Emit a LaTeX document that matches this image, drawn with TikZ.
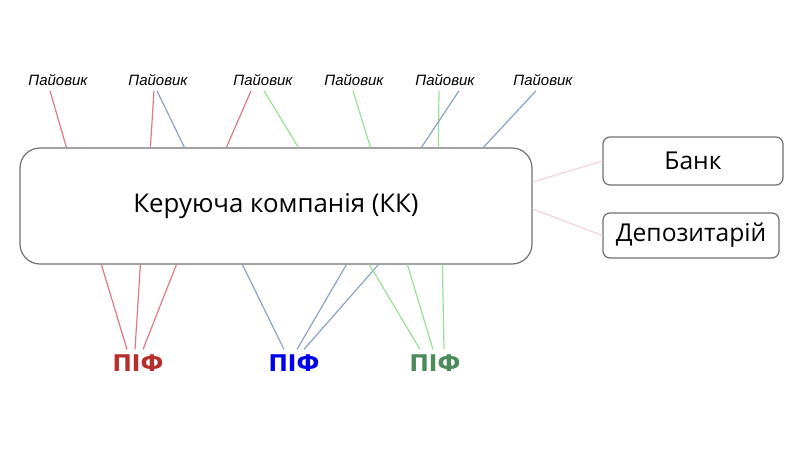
\documentclass[tikz,border=0pt]{standalone}
\usepackage{fontspec}
\setmainfont{Open Sans}
\newfontfamily\holderfont{Liberation Sans}
\newfontfamily\fundfont{DejaVu Sans}
\usepackage{xcolor}
\usepackage{tikz}
\usetikzlibrary{arrows.meta,positioning,calc}
\definecolor{linkred}{HTML}{E07888}
\definecolor{linkblue}{HTML}{8EA2C6}
\definecolor{linkgreen}{HTML}{98E098}
\definecolor{linkpink}{HTML}{F2D4DC}
\definecolor{fundred}{HTML}{B5302C}
\definecolor{fundblue}{HTML}{0000EE}
\definecolor{fundgreen}{HTML}{4B8B5B}
\definecolor{boxgray}{HTML}{707070}

\begin{document}
\begin{tikzpicture}[x=1pt,y=-1pt,
  holder/.style={font=\holderfont\itshape\fontsize{15}{17}\selectfont,inner sep=2pt},
  fund/.style={font=\fundfont\bfseries\fontsize{23}{26}\selectfont,inner sep=2pt},
  party/.style={draw=boxgray,line width=1.2pt,rounded corners=7pt,font=\fontsize{24.6}{28}\selectfont,inner sep=0pt},
  link/.style={line width=1.2pt}]
\useasboundingbox (0,0) rectangle (800,450);
% company
\node[party,rounded corners=20pt,minimum width=512pt,minimum height=116pt,font=\fontsize{25.8}{30}\selectfont] (kk) at (276,206) {\raisebox{-2pt}{Керуюча компанія (КК)}\hspace{11pt}};
\node[party,minimum width=180pt,minimum height=48pt] (bank) at (693,161) {Банк};
\node[party,minimum width=176pt,minimum height=45pt] (dep) at (691,235.5) {Депозитарій};
% holders
\foreach \i/\x in {1/58,2/158,3/263,4/354,5/445,6/543}{\node[holder] (p\i) at (\x,80) {Пайовик};}
% funds
\node[fund,text=fundred] (f1) at (138,363) {ПІФ};
\node[fund,text=fundblue] (f2) at (294,363) {ПІФ};
\node[fund,text=fundgreen] (f3) at (435,363) {ПІФ};
% holders to company
\foreach \i/\a/\b/\c in {1/-8/47/linkred,2/-4/131/linkred,2/-1/165/linkblue,3/-12/207/linkred,3/1/279/linkgreen,
  4/-1/351/linkgreen,5/-6/419/linkgreen,5/14/402/linkblue,6/-7/464/linkblue}
  {\draw[link,\c] ($(p\i.south)+(\a,3)$) -- ($(kk.north west)+(\b,0)$);}
% company to funds
\foreach \i/\a/\b/\c in {1/82/-11/linkred,1/121/-3/linkred,1/157/5/linkred,
  2/223/-10/linkblue,2/327/3/linkblue,2/359/10/linkblue,
  3/350/-15/linkgreen,3/388/-2/linkgreen,3/423/9/linkgreen}
  {\draw[link,\c] ($(kk.south west)+(\a,0)$) -- ($(f\i.north)+(\b,-3)$);}
% bank, depositary
\draw[link,linkpink] ($(kk.east)+(0,-24)$) -- (bank.west);
\draw[link,linkpink] ($(kk.east)+(0,3)$) -- (dep.west);
\end{tikzpicture}
\end{document}
